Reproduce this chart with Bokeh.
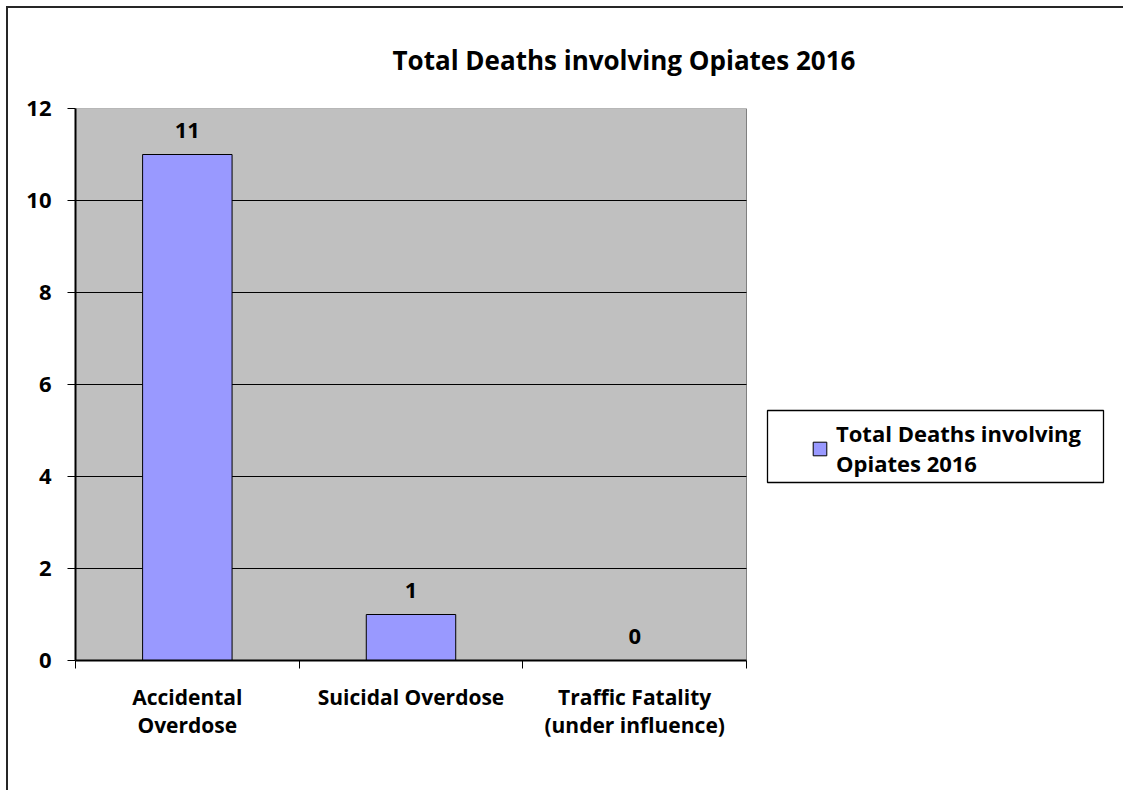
from bokeh.plotting import figure
from bokeh.models import (Range1d, FixedTicker, LinearAxis, Legend, LegendItem,
                          ColumnDataSource, BoxAnnotation)
from bokeh.core.properties import value
from bokeh.embed import file_html
from bokeh.resources import INLINE

categories = ["Accidental\nOverdose", "Suicidal Overdose", "Traffic Fatality\n(under influence)"]
deaths = [11, 1, 0]
value_labels = ["11", "1", "0"]
y_ticks = [0, 2, 4, 6, 8, 10, 12]
series_name = "Total Deaths involving\nOpiates 2016"
title_text = "Total Deaths involving Opiates 2016"

FONT = "Open Sans"

# layout (pixels)
PLOT_W = 671            # width of the grey plot area
FRAME_W = 1044          # frame extends right to host the legend
FRAME_H = 552
n = len(categories)
x_end = n * FRAME_W / PLOT_W
px_per_unit_x = PLOT_W / n
px_per_unit_y = FRAME_H / (y_ticks[-1] - y_ticks[0])

centers = [i + 0.5 for i in range(n)]
edges = list(range(n + 1))
src = ColumnDataSource(dict(x=centers, val=deaths, lab=value_labels))

p = figure(x_range=Range1d(0, x_end), y_range=Range1d(y_ticks[0], y_ticks[-1]),
           frame_width=FRAME_W, frame_height=FRAME_H,
           min_border_left=67, min_border_top=99, min_border_right=4, min_border_bottom=130,
           output_backend="svg", toolbar_location=None, tools="",
           x_axis_location=None, y_axis_location=None)
p.styles = {"border-left": "2px solid #262626", "border-top": "2px solid #262626",
            "margin-left": "6px", "margin-top": "6px"}

p.background_fill_color = "white"
p.border_fill_color = "white"
p.outline_line_color = None
p.xgrid.visible = False
p.ygrid.visible = False

# grey plot area
plot_area = BoxAnnotation(left=0, right=n, bottom=y_ticks[0], top=y_ticks[-1],
                          fill_color="#C0C0C0", fill_alpha=1,
                          line_color="#808080", line_alpha=1, line_width=1, level="underlay")
p.add_layout(plot_area)

p.title.text = title_text
p.title.text_font = FONT
p.title.text_font_size = "26px"
p.title.text_font_style = "bold"
p.title.text_color = "black"
p.title.align = "left"
p.title.offset = 317
p.title.standoff = 62

# y axis
yax = LinearAxis(ticker=FixedTicker(ticks=y_ticks))
yax.axis_line_color = "black"
yax.axis_line_width = 2
yax.major_tick_in = 0
yax.major_tick_out = 8
yax.major_tick_line_width = 1
yax.minor_tick_line_color = None
yax.major_label_standoff = 16
yax.major_label_text_font = FONT
yax.major_label_text_font_size = "22px"
yax.major_label_text_font_style = "bold"
yax.major_label_text_color = "black"
p.add_layout(yax, "left")

# bottom axis: ticks at category boundaries
eax = LinearAxis(ticker=FixedTicker(ticks=edges), bounds=(0, n))
eax.axis_line_color = "black"
eax.axis_line_width = 2
eax.major_tick_in = 0
eax.major_tick_out = 8
eax.minor_tick_line_color = None
eax.major_label_text_font_size = "0px"
eax.major_label_text_color = None
eax.major_label_standoff = 0
p.add_layout(eax, "below")

# category labels
cax = LinearAxis(ticker=FixedTicker(ticks=centers),
                 major_label_overrides={c: name for c, name in zip(centers, categories)})
cax.axis_line_color = None
cax.major_tick_line_color = None
cax.minor_tick_line_color = None
cax.major_label_standoff = 8
cax.major_label_text_font = FONT
cax.major_label_text_font_size = "21px"
cax.major_label_text_font_style = "bold"
cax.major_label_text_color = "black"
cax.major_label_text_line_height = 1.0
p.add_layout(cax, "below")

# horizontal gridlines inside the grey area
grid_y = y_ticks[1:-1]
p.segment(x0=[0] * len(grid_y), x1=[n] * len(grid_y), y0=grid_y, y1=grid_y,
          line_color="black", line_width=1)

bars = p.vbar(x="x", top="val", width=0.4, source=src,
              fill_color="#9999FF", line_color="black", line_width=1)

p.text(x="x", y="val", text="lab", source=src, text_align="center",
       text_baseline="alphabetic", y_offset=-24,
       text_font=value(FONT), text_font_size="22px", text_font_style="bold",
       text_color="black")

# legend box (page px 767..1103 x 409..481 -> frame px)
box_l, box_r, box_t, box_b = 692, 1028, 250, 178   # frame px (from left / from bottom)
legend_box = BoxAnnotation(left=box_l / px_per_unit_x, right=box_r / px_per_unit_x,
                           bottom=box_b / px_per_unit_y, top=box_t / px_per_unit_y,
                           fill_color="white", fill_alpha=1,
                           line_color="black", line_alpha=1, line_width=1.3)
p.add_layout(legend_box)

leg = Legend(items=[LegendItem(label=series_name, renderers=[bars])],
             location=(736, 182))
leg.border_line_color = None
leg.background_fill_alpha = 0
leg.padding = 0
leg.margin = 0
leg.glyph_width = 17
leg.glyph_height = 17
leg.label_standoff = 8
leg.label_text_font = FONT
leg.label_text_font_size = "22px"
leg.label_text_font_style = "bold"
leg.label_text_color = "black"
leg.label_text_line_height = 1.15
p.add_layout(leg, "center")

open("out.html", "w").write(file_html(p, INLINE))
